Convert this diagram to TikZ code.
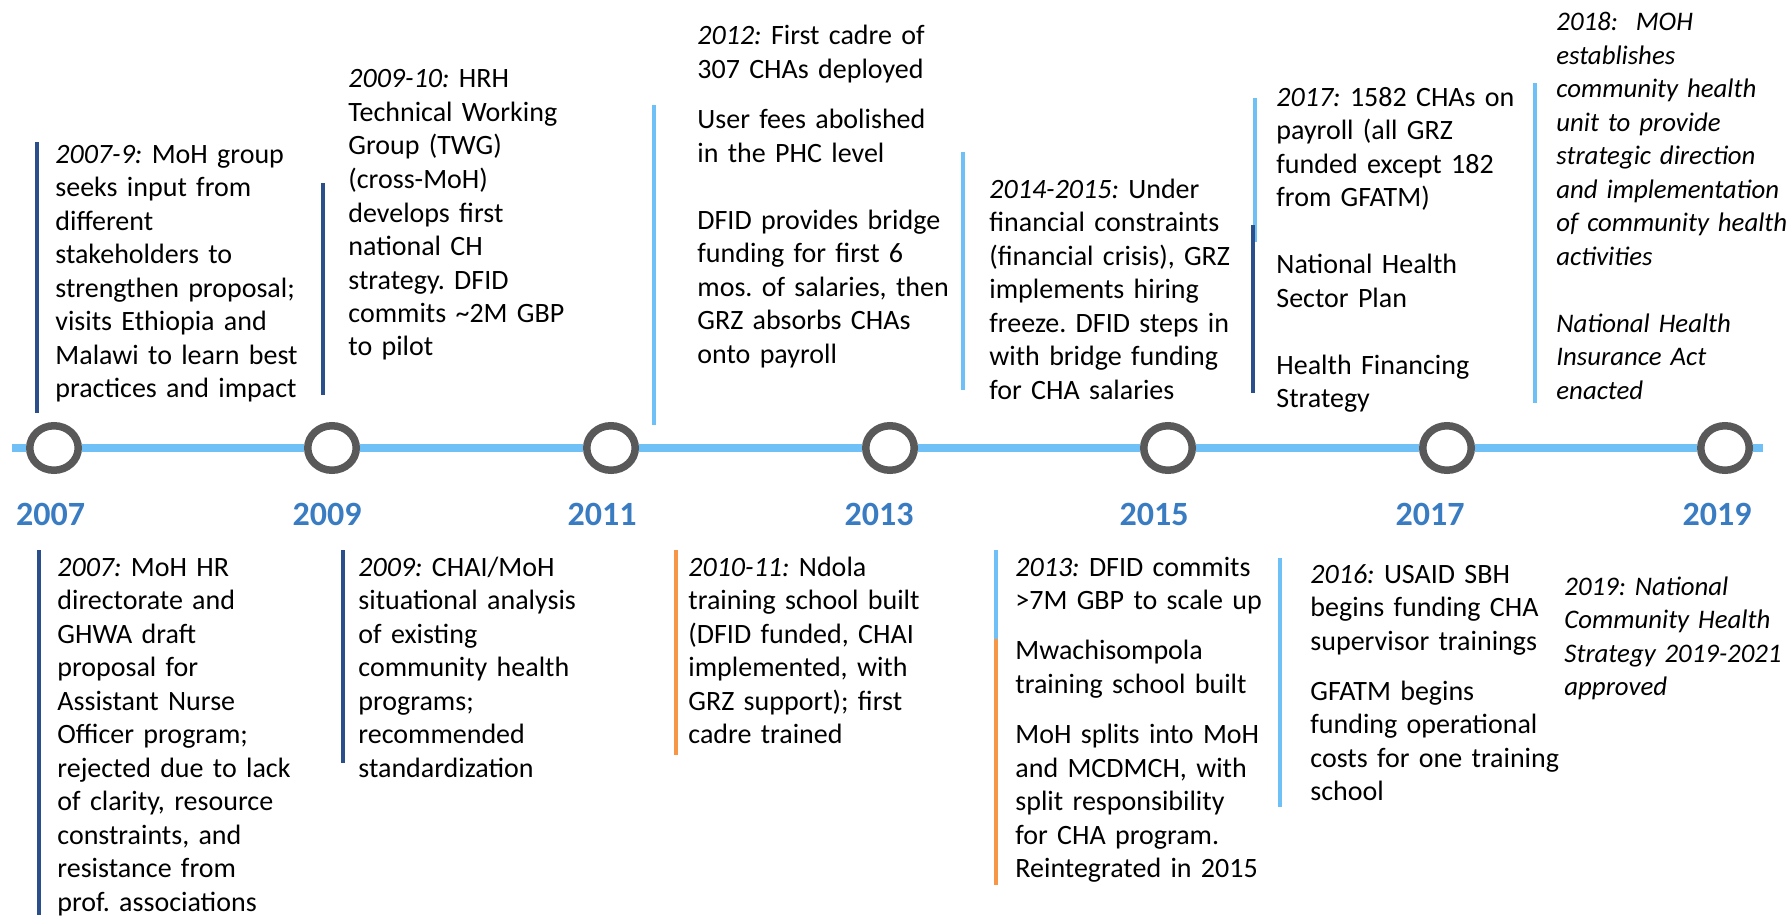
\documentclass[tikz,border=0pt]{standalone}
\usepackage{fontspec}
\setmainfont{Carlito}
\usetikzlibrary{shapes.geometric}
\usetikzlibrary{backgrounds}
\usetikzlibrary{positioning}

\definecolor{lineblue}{HTML}{6FC0F6}
\definecolor{darkbar}{HTML}{2B4F8A}
\definecolor{orangebar}{HTML}{F79646}
\definecolor{yearblue}{HTML}{3A7CC2}
\definecolor{ringgray}{HTML}{595959}

\newcommand{\when}[1]{\textit{#1}}
\frenchspacing

\begin{document}
\begin{tikzpicture}[x=0.5pt, y=-0.5pt]
    \tikzstyle{yearmark}=[ellipse, draw=ringgray, line width=3.75pt, fill=white, minimum width=24.25pt, minimum height=22.25pt, inner sep=0pt]
    \tikzstyle{yearlabel}=[anchor=base, text=yearblue, inner sep=0pt, font=\fontsize{17}{19}\selectfont\bfseries]
    \tikzstyle{event}=[anchor=base west, text width=240pt, align=left, inner sep=0pt, font=\fontsize{14}{16.75}\selectfont]
    \tikzstyle{eventit}=[event, font=\fontsize{13.4}{16.75}\selectfont\itshape]
    \tikzstyle{bar}=[line width=2pt]
    \tikzstyle{timeline}=[draw=lineblue, line width=4pt]

    \useasboundingbox (0,0) rectangle (1791,915);

    % year marks on the line
    \node[yearmark] (y07) at (54,448) {};
    \node[yearmark] (y09) at (332,448) {};
    \node[yearmark] (y11) at (611,448) {};
    \node[yearmark] (y13) at (890,448) {};
    \node[yearmark] (y15) at (1168,448) {};
    \node[yearmark] (y17) at (1447,448) {};
    \node[yearmark] (y19) at (1725,448) {};
    \coordinate (tstart) at (12,448);
    \coordinate (tend) at (1763,448);

    \begin{scope}[on background layer]
        \draw[timeline] (tstart) -- (y07) -- (y09) -- (y11) -- (y13) -- (y15) -- (y17) -- (y19) -- (tend);
    \end{scope}

    \node[yearlabel] (l07) at (50.5,525.5) {2007};
    \node[yearlabel] (l09) at (327,525.5) {2009};
    \node[yearlabel] (l11) at (602,525.5) {2011};
    \node[yearlabel] (l13) at (879,525.5) {2013};
    \node[yearlabel] (l15) at (1154,525.5) {2015};
    \node[yearlabel] (l17) at (1430,525.5) {2017};
    \node[yearlabel] (l19) at (1717,525.5) {2019};

    % events above the line
    \draw[bar, darkbar] (36.5,142) -- (36.5,413);
    \node[event] (e0709) at (55,163) {\when{2007-9:} MoH group\\ seeks input from\\ different\\ stakeholders to\\ strengthen proposal;\\ visits Ethiopia and\\ Malawi to learn best\\ practices and impact};

    \draw[bar, darkbar] (323,183) -- (323,395);
    \node[event] (e0910) at (348,88) {\when{2009-10:} HRH\\ Technical Working\\ Group (TWG)\\ (cross-MoH)\\ develops first\\ national CH\\ strategy. DFID\\ commits \textasciitilde2M GBP\\ to pilot};

    \draw[bar, lineblue] (654,105) -- (654,425);
    \node[event] (e12) at (697,45) {\when{2012:} First cadre of\\ 307 CHAs deployed\\[8.4pt] User fees abolished\\ in the PHC level\\[16.75pt] DFID provides bridge\\ funding for first 6\\ mos. of salaries, then\\ GRZ absorbs CHAs\\ onto payroll};

    \draw[bar, lineblue] (963,152) -- (963,390);
    \node[event] (e1415) at (989,198) {\when{2014-2015:} Under\\ financial constraints\\ (financial crisis), GRZ\\ implements hiring\\ freeze. DFID steps in\\ with bridge funding\\ for CHA salaries};

    \draw[bar, lineblue] (1255,98) -- (1255,242);
    \draw[bar, darkbar] (1253,225) -- (1253,393);
    \node[event] (e17) at (1276,106) {\when{2017:} 1582 CHAs on\\ payroll (all GRZ\\ funded except 182\\ from GFATM)\\[16.75pt] National Health\\ Sector Plan\\[16.75pt] Health Financing\\ Strategy};

    \draw[bar, lineblue] (1535,83) -- (1535,403);
    \node[eventit] (e18) at (1556,31) {2018:\ \ MOH\\ establishes\\ community health\\ unit to provide\\ strategic direction\\ and implementation\\ of community health\\ activities\\[16.75pt] National Health\\ Insurance Act\\ enacted};

    % events below the line
    \draw[bar, darkbar] (39,550) -- (39,915);
    \node[event] (e07) at (57,576) {\when{2007:} MoH HR\\ directorate and\\ GHWA draft\\ proposal for\\ Assistant Nurse\\ Officer program;\\ rejected due to lack\\ of clarity, resource\\ constraints, and\\ resistance from\\ prof. associations};

    \draw[bar, darkbar] (343,550) -- (343,763);
    \node[event] (e09) at (358,576) {\when{2009:} CHAI/MoH\\ situational analysis\\ of existing\\ community health\\ programs;\\ recommended\\ standardization};

    \draw[bar, orangebar] (676,550) -- (676,755);
    \node[event] (e1011) at (688,576) {\when{2010-11:} Ndola\\ training school built\\ (DFID funded, CHAI\\ implemented, with\\ GRZ support); first\\ cadre trained};

    \draw[bar, lineblue] (996,550) -- (996,639);
    \draw[bar, orangebar] (996,639) -- (996,885);
    \node[event] (e13) at (1015,576) {\when{2013:} DFID commits\\ >7M GBP to scale up\\[8.4pt] Mwachisompola\\ training school built\\[8.4pt] MoH splits into MoH\\ and MCDMCH, with\\ split responsibility\\ for CHA program.\\ Reintegrated in 2015};

    \draw[bar, lineblue] (1280,558) -- (1280,807);
    \node[event] (e16) at (1310,583) {\when{2016:} USAID SBH\\ begins funding CHA\\ supervisor trainings\\[8.4pt] GFATM begins\\ funding operational\\ costs for one training\\ school};

    \node[eventit] (e19) at (1564,595) {2019: National\\ Community Health\\ Strategy 2019-2021\\ approved};
\end{tikzpicture}
\end{document}
